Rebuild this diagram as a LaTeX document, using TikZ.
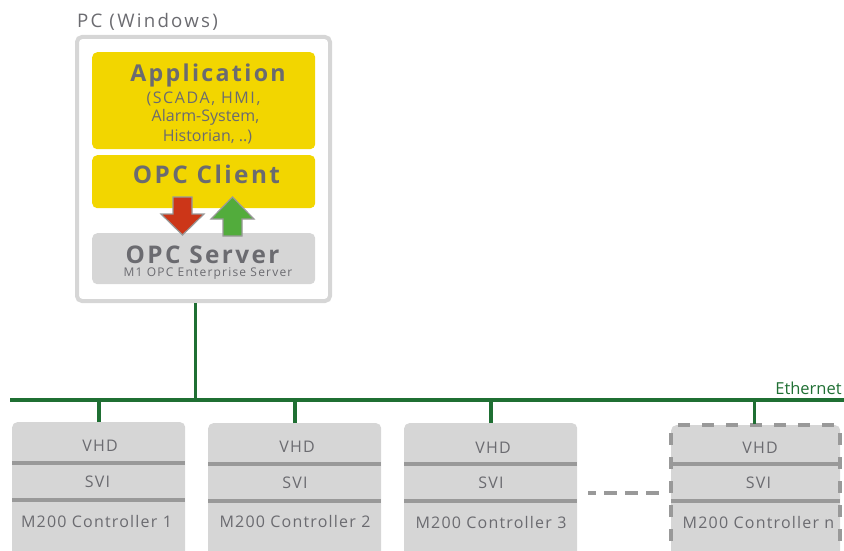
\documentclass[tikz,border=0pt]{standalone}
\usepackage{fontspec}
\setmainfont{Open Sans}
\newfontfamily\wideone[LetterSpace=7.5]{Open Sans}
\newfontfamily\widetwo[LetterSpace=12]{Open Sans}
\newfontfamily\widethree[LetterSpace=10]{Open Sans}
\newfontfamily\widesub[LetterSpace=10]{Open Sans}
\newfontfamily\boldwide[LetterSpace=10,BoldFont={Open Sans Bold}]{Open Sans}
\definecolor{txtgray}{HTML}{6B6B70}
\definecolor{boxgray}{HTML}{D6D6D6}
\definecolor{divgray}{HTML}{999999}
\definecolor{yel}{HTML}{F2D600}
\definecolor{netgreen}{HTML}{1F6F33}
\definecolor{arrred}{HTML}{CC3618}
\definecolor{arrgreen}{HTML}{52AC3C}
\tikzset{
  panel/.style={rounded corners=5pt,minimum height=#1,inner sep=0pt,anchor=north west},
  yelbox/.style={panel=#1,fill=yel,minimum width=223pt},
  srvbox/.style={panel=#1,fill=boxgray,minimum width=223pt},
  ctrl/.style={panel=140pt,fill=boxgray,minimum width=173pt},
  pcbox/.style={rounded corners=5pt,draw=boxgray,line width=4pt,minimum width=253pt,minimum height=264pt,inner sep=0pt,anchor=north west},
  net/.style={draw=netgreen,line width=3.8pt},
  divider/.style={draw=divgray,line width=3.6pt},
  gap/.style={draw=divgray,line width=4pt,dash pattern=on 13pt off 8pt,dash phase=5pt},
  edge dash/.style={draw=divgray,line width=4pt,dash pattern=on 12pt off 12pt},
  lab/.style={text=txtgray,inner sep=0pt,anchor=center,font=\wideone\fontsize{16}{19}\selectfont},
  hd/.style={text=txtgray,inner sep=0pt,anchor=center,font=\boldwide\bfseries\fontsize{24.3}{28}\selectfont},
  flow/.style={draw=divgray,line width=1.2pt,line join=miter},
}
\begin{document}
\begin{tikzpicture}[x=1pt,y=-1pt]
\useasboundingbox (0,0) rectangle (844,551);
\clip (0,0) rectangle (844,551);
% PC
\node[pcbox] (pc) at (75,35) {};
\node[text=txtgray,inner sep=0pt,anchor=center,font=\widetwo\fontsize{18.7}{22}\selectfont] (pclabel) at (147.5,22) {PC (Windows)};
\node[yelbox=97pt] (app) at (92,52) {};
\node[yelbox=53pt] (client) at (92,155) {};
\node[srvbox=51pt] (server) at (92,233) {};
\node[hd,font=\boldwide\bfseries\fontsize{23.2}{28}\selectfont] (apptitle) at (208,75.5) {Application};
\node[lab,font=\widethree\fontsize{16}{19}\selectfont] (appa) at (203.5,98.5) {(SCADA, HMI,};
\node[lab,font=\fontsize{16}{19}\selectfont] (appb) at (205.5,117.5) {Alarm-System,};
\node[lab,font=\fontsize{16}{19}\selectfont] (appc) at (207.5,136.5) {Historian, ..)};
\node[hd] (clienttitle) at (206.5,174.5) {OPC Client};
\node[hd] (servertitle) at (202.5,254.5) {OPC Server};
\node[lab,font=\widesub\fontsize{12}{15}\selectfont] (serversub) at (208,274) {M1 OPC Enterprise Server};
% arrows
\draw[flow,fill=arrred] (173,197) -- (192,197) -- (192,214) -- (204,214) -- (182.5,235) -- (161,214) -- (173,214) -- cycle;
\draw[flow,fill=arrgreen] (223,236) -- (242,236) -- (242,219) -- (254,219) -- (232.5,197) -- (211,219) -- (223,219) -- cycle;
% bus
\coordinate (busL) at (10,400);
\coordinate (busR) at (844,400);
\coordinate (pcdrop) at (195.5,303);
\draw[net] (busL) -- (busR);
\draw[net] (pcdrop) -- (pcdrop |- busL);
% controllers
\node[ctrl] (c1) at (12,422) {};
\node[ctrl] (c2) at (208,423) {};
\node[ctrl] (c3) at (404,423) {};
\node[ctrl,minimum width=169pt] (cn) at (671,425) {};
\draw[net] (c1.north) -- (c1.north |- busL);
\draw[net] (c2.north) -- (c2.north |- busL);
\draw[net] (c3.north) -- (c3.north |- busL);
\draw[divider] (c1.west |- 0,463) -- (c1.east |- 0,463);
\draw[divider] (c1.west |- 0,500) -- (c1.east |- 0,500);
\draw[divider] (c2.west |- 0,464) -- (c2.east |- 0,464);
\draw[divider] (c2.west |- 0,501) -- (c2.east |- 0,501);
\draw[divider] (c3.west |- 0,464) -- (c3.east |- 0,464);
\draw[divider] (c3.west |- 0,501) -- (c3.east |- 0,501);
\draw[divider] (cn.west |- 0,464) -- (cn.east |- 0,464);
\draw[divider] (cn.west |- 0,501) -- (cn.east |- 0,501);
\draw[edge dash] (678,425) -- (836,425);
\draw[edge dash] (671,433) -- (671,560);
\draw[edge dash] (840,433) -- (840,560);
\coordinate (ndrop) at (754.5,424);
\draw[net] (ndrop) -- (ndrop |- busL);
% labels
\node[lab] (v1) at (100,445.5) {VHD};
\node[lab] (s1) at (97.5,481.5) {SVI};
\node[lab] (m1) at (96.5,521.5) {M200 Controller 1};
\node[lab] (v2) at (297,446.5) {VHD};
\node[lab] (s2) at (295,482.5) {SVI};
\node[lab] (m2) at (295,521.5) {M200 Controller 2};
\node[lab] (v3) at (493,447.5) {VHD};
\node[lab] (s3) at (491,482.5) {SVI};
\node[lab] (m3) at (491,522.5) {M200 Controller 3};
\node[lab] (vn) at (760,447.5) {VHD};
\node[lab] (sn) at (758.5,482.5) {SVI};
\node[lab] (mn) at (758.5,522.5) {M200 Controller n};
\coordinate (gapL) at (588,493);
\coordinate (gapR) at (660,493);
\draw[gap] (gapL) -- (gapR);
\node[text=netgreen,inner sep=0pt,anchor=center,font=\fontsize{16.5}{19}\selectfont] (eth) at (808.5,388) {Ethernet};
\end{tikzpicture}
\end{document}
